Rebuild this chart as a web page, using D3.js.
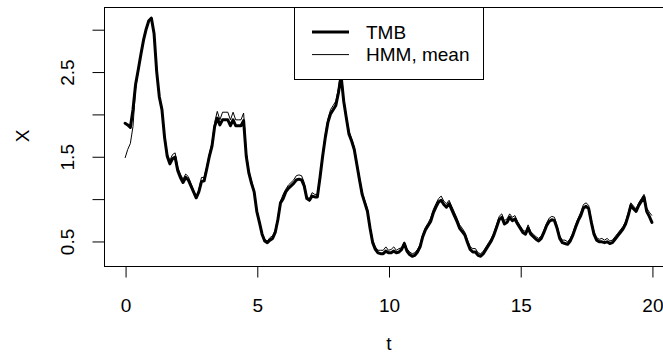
<!DOCTYPE html>
<html>
<head>
<meta charset="utf-8">
<script src="https://cdn.jsdelivr.net/npm/d3@7"></script>
<style>
  html, body { margin: 0; padding: 0; background: #fff; }
  svg { display: block; font-family: "Liberation Sans", Arial, Helvetica, sans-serif; }
</style>
</head>
<body>
<svg id="chart" width="663" height="362"></svg>
<script>
// Time grid, t = 0 .. 20 in steps of 0.1
const tStart = 0, tStep = 0.1;

// Filtered state estimate from TMB
const tmb = [
  1.89, 1.87, 1.84, 2.05, 2.35, 2.52, 2.70, 2.87, 3.00, 3.10,
  3.13, 2.95, 2.50, 2.20, 2.05, 1.72, 1.50, 1.41, 1.47, 1.49,
  1.33, 1.25, 1.19, 1.25, 1.22, 1.15, 1.08, 1.01, 1.08, 1.20,
  1.21, 1.35, 1.50, 1.62, 1.85, 1.95, 1.87, 1.93, 1.93, 1.93,
  1.86, 1.93, 1.86, 1.86, 1.86, 1.92, 1.50, 1.30, 1.18, 1.08,
  0.85, 0.72, 0.58, 0.50, 0.48, 0.51, 0.53, 0.60, 0.75, 0.95,
  1.00, 1.08, 1.12, 1.15, 1.18, 1.22, 1.23, 1.22, 1.15, 1.00,
  0.98, 1.03, 1.02, 1.02, 1.25, 1.50, 1.72, 1.90, 2.00, 2.05,
  2.10, 2.25, 2.45, 2.15, 1.95, 1.76, 1.68, 1.58, 1.40, 1.22,
  1.05, 0.95, 0.85, 0.65, 0.48, 0.40, 0.36, 0.35, 0.35, 0.38,
  0.36, 0.36, 0.38, 0.36, 0.37, 0.40, 0.47, 0.38, 0.34, 0.32,
  0.33, 0.37, 0.43, 0.55, 0.63, 0.68, 0.73, 0.83, 0.90, 0.96,
  0.98, 0.93, 0.90, 0.94, 0.87, 0.80, 0.73, 0.65, 0.61, 0.57,
  0.48, 0.40, 0.37, 0.37, 0.33, 0.32, 0.35, 0.40, 0.45, 0.50,
  0.57, 0.66, 0.75, 0.78, 0.70, 0.72, 0.78, 0.74, 0.76, 0.70,
  0.65, 0.60, 0.58, 0.65, 0.58, 0.55, 0.52, 0.50, 0.53, 0.60,
  0.68, 0.73, 0.75, 0.74, 0.65, 0.53, 0.48, 0.47, 0.46, 0.50,
  0.57, 0.66, 0.74, 0.80, 0.89, 0.91, 0.88, 0.72, 0.58, 0.51,
  0.49, 0.49, 0.48, 0.49, 0.47, 0.48, 0.52, 0.56, 0.60, 0.64,
  0.70, 0.80, 0.92, 0.88, 0.85, 0.92, 0.97, 1.02, 0.85, 0.79,
  0.72
];

// Posterior mean from the HMM discretisation
const hmmMean = [
  1.48, 1.58, 1.65, 1.85, 2.30, 2.50, 2.70, 2.87, 3.01, 3.11,
  3.14, 2.96, 2.52, 2.22, 2.07, 1.75, 1.53, 1.45, 1.52, 1.54,
  1.37, 1.29, 1.23, 1.29, 1.26, 1.18, 1.10, 1.02, 1.10, 1.25,
  1.25, 1.38, 1.53, 1.66, 1.90, 2.03, 1.93, 2.02, 2.02, 2.02,
  1.93, 2.02, 1.93, 1.93, 1.93, 2.01, 1.55, 1.33, 1.21, 1.10,
  0.87, 0.74, 0.60, 0.52, 0.50, 0.54, 0.56, 0.63, 0.78, 0.97,
  1.05, 1.11, 1.16, 1.19, 1.22, 1.27, 1.28, 1.27, 1.19, 1.02,
  1.00, 1.07, 1.05, 1.05, 1.28, 1.53, 1.76, 1.94, 2.05, 2.10,
  2.15, 2.30, 2.53, 2.18, 1.98, 1.80, 1.71, 1.61, 1.43, 1.25,
  1.08, 0.98, 0.88, 0.68, 0.51, 0.43, 0.39, 0.39, 0.39, 0.43,
  0.39, 0.40, 0.43, 0.39, 0.41, 0.42, 0.49, 0.41, 0.37, 0.35,
  0.36, 0.40, 0.46, 0.58, 0.66, 0.71, 0.77, 0.87, 0.94, 1.00,
  1.03, 0.97, 0.94, 0.98, 0.91, 0.84, 0.77, 0.69, 0.65, 0.60,
  0.51, 0.43, 0.41, 0.41, 0.36, 0.35, 0.38, 0.43, 0.48, 0.53,
  0.60, 0.69, 0.79, 0.82, 0.74, 0.76, 0.82, 0.78, 0.80, 0.73,
  0.68, 0.63, 0.61, 0.69, 0.61, 0.58, 0.55, 0.53, 0.56, 0.63,
  0.71, 0.77, 0.79, 0.78, 0.68, 0.56, 0.51, 0.51, 0.49, 0.53,
  0.60, 0.69, 0.77, 0.84, 0.93, 0.95, 0.92, 0.75, 0.61, 0.54,
  0.52, 0.53, 0.51, 0.53, 0.50, 0.51, 0.55, 0.59, 0.63, 0.67,
  0.73, 0.83, 0.95, 0.91, 0.88, 0.95, 1.00, 1.05, 0.89, 0.84,
  0.80
];

const xTicks = [0, 5, 10, 15, 20];
const yTicks = [0.5, 1.0, 1.5, 2.0, 2.5, 3.0];
const yTickLabels = ["0.5", "", "1.5", "", "2.5", ""];
const legendLabels = ["TMB", "HMM, mean"];

const FONT = 19;
const svg = d3.select("#chart");

// Plot region; the data range is padded by 4% on each side
const box = { left: 104, top: 7, right: 673, bottom: 266 };
const tEnd = tStart + tStep * (tmb.length - 1);
const tPad = 0.04 * (tEnd - tStart);

const x = d3.scaleLinear().domain([tStart - tPad, tEnd + tPad]).range([box.left, box.right]);
const y = d3.scaleLinear().domain([0.2045, 3.262]).range([box.bottom, box.top]);

const tOf = i => tStart + i * tStep;

// Series lines
const line = d3.line().x((d, i) => x(tOf(i))).y(d => y(d));

svg.append("path").datum(tmb)
  .attr("d", line).attr("fill", "none")
  .attr("stroke", "#000").attr("stroke-width", 3)
  .attr("stroke-linejoin", "round").attr("stroke-linecap", "round");

svg.append("path").datum(hmmMean)
  .attr("d", line).attr("fill", "none")
  .attr("stroke", "#000").attr("stroke-width", 1)
  .attr("stroke-linejoin", "round");

// Frame
svg.append("rect")
  .attr("x", box.left + 0.5).attr("y", box.top + 0.5)
  .attr("width", box.right - box.left).attr("height", box.bottom - box.top)
  .attr("fill", "none").attr("stroke", "#000").attr("stroke-width", 1);

// Bottom axis
const xAxis = d3.axisBottom(x).tickValues(xTicks).tickSize(11).tickPadding(21)
  .tickFormat(d3.format("d"));
const gx = svg.append("g").attr("transform", `translate(0.5,${box.bottom + 0.5})`).call(xAxis);
gx.select(".domain").attr("d", `M${x(xTicks[0])},0H${x(xTicks[xTicks.length - 1])}`);
gx.selectAll("text").attr("font-size", FONT).attr("fill", "#000")
  .attr("font-family", "Liberation Sans, Arial, sans-serif");

// Left axis with rotated labels on every other tick
const yAxis = d3.axisLeft(y).tickValues(yTicks).tickSize(12)
  .tickFormat((d, i) => yTickLabels[i]);
const gy = svg.append("g").attr("transform", `translate(${box.left + 0.5},0.5)`).call(yAxis);
gy.select(".domain").attr("d", `M0,${y(yTicks[0])}V${y(yTicks[yTicks.length - 1])}`);
gy.selectAll(".tick text")
  .attr("font-size", FONT).attr("fill", "#000")
  .attr("font-family", "Liberation Sans, Arial, sans-serif")
  .attr("x", null).attr("y", null).attr("dy", "0.36em")
  .attr("text-anchor", "middle")
  .attr("transform", "translate(-37,0) rotate(-90)");

// Axis titles
svg.append("text").attr("x", 389).attr("y", 350)
  .attr("text-anchor", "middle").attr("font-size", FONT).text("t");
svg.append("text")
  .attr("transform", "translate(22,136) rotate(-90)")
  .attr("text-anchor", "middle").attr("dy", "0.36em")
  .attr("font-size", FONT).text("X");

// Legend
const legend = svg.append("g").attr("transform", "translate(294,7)");
legend.append("rect").attr("x", 0.5).attr("y", 0.5).attr("width", 189).attr("height", 72)
  .attr("fill", "#fff").attr("stroke", "#000").attr("stroke-width", 1);
const widths = [3, 1];
legendLabels.forEach((lab, i) => {
  const ly = 25 + i * 22.6;
  legend.append("line").attr("x1", 18).attr("x2", 55).attr("y1", ly).attr("y2", ly)
    .attr("stroke", "#000").attr("stroke-width", widths[i]);
  legend.append("text").attr("x", 72).attr("y", ly).attr("dy", "0.36em")
    .attr("font-size", FONT).text(lab);
});
</script>
</body>
</html>
